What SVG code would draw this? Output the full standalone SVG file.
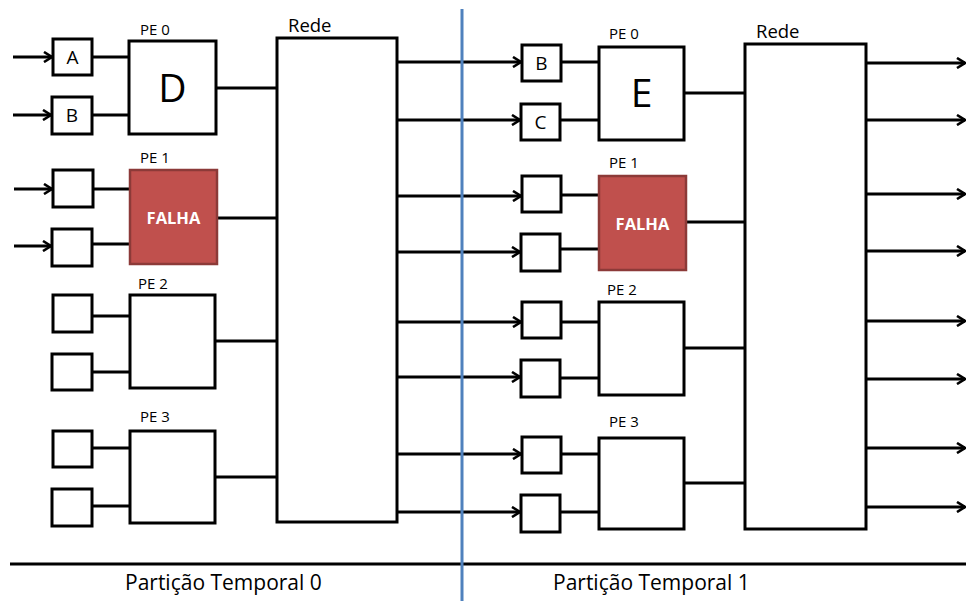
<svg xmlns="http://www.w3.org/2000/svg" width="966" height="601" viewBox="0 0 966 601">
<defs>
<style>
.box{fill:#fff;stroke:#000;stroke-width:3}
.fail{fill:#C0504D;stroke:#8C3A38;stroke-width:2.5}
.ln{stroke:#000;stroke-width:3;fill:none}
.arr{stroke:#000;stroke-width:3;fill:none;marker-end:url(#ah)}
.t{font-family:"Open Sans","Liberation Sans",sans-serif;fill:#000}
.pe{font-size:15px}
.io{font-size:19px}
.big{font-size:39px}
.rede{font-size:18.5px}
.fl{font-family:"Open Sans","Liberation Sans",sans-serif;font-weight:bold;font-size:16.5px;fill:#fff}
.part{font-size:21px}
</style>
<marker id="ah" markerWidth="12" markerHeight="12" viewBox="0 0 12 12" refX="10" refY="6" orient="auto" markerUnits="userSpaceOnUse">
<path d="M2,1 L10,6 L2,11" fill="none" stroke="#000" stroke-width="2.6"/>
</marker>
</defs>
<rect width="966" height="601" fill="#fff"/>

<g id="connectors">
<line class="arr" x1="13" y1="57" x2="52" y2="57"/>
<line class="arr" x1="13" y1="115" x2="51" y2="115"/>
<line class="arr" x1="14" y1="189" x2="52" y2="189"/>
<line class="arr" x1="14" y1="246" x2="51" y2="246"/>
<line class="ln" x1="92" y1="57" x2="129" y2="57"/>
<line class="ln" x1="92" y1="115" x2="129" y2="115"/>
<line class="ln" x1="93" y1="189" x2="130" y2="189"/>
<line class="ln" x1="92" y1="244" x2="130" y2="244"/>
<line class="ln" x1="92" y1="316" x2="130" y2="316"/>
<line class="ln" x1="92" y1="372" x2="130" y2="372"/>
<line class="ln" x1="92" y1="448" x2="130" y2="448"/>
<line class="ln" x1="92" y1="506" x2="130" y2="506"/>
<line class="ln" x1="216" y1="88" x2="277" y2="88"/>
<line class="ln" x1="217" y1="218" x2="277" y2="218"/>
<line class="ln" x1="215" y1="341" x2="277" y2="341"/>
<line class="ln" x1="215" y1="477" x2="277" y2="477"/>
<line class="arr" x1="397" y1="62" x2="521" y2="62"/>
<line class="arr" x1="397" y1="120" x2="520" y2="120"/>
<line class="arr" x1="397" y1="196" x2="521" y2="196"/>
<line class="arr" x1="397" y1="252" x2="520" y2="252"/>
<line class="arr" x1="397" y1="322" x2="521" y2="322"/>
<line class="arr" x1="397" y1="377" x2="520" y2="377"/>
<line class="arr" x1="397" y1="454" x2="521" y2="454"/>
<line class="arr" x1="397" y1="512" x2="520" y2="512"/>
<line class="ln" x1="561" y1="62" x2="599" y2="62"/>
<line class="ln" x1="560" y1="120" x2="599" y2="120"/>
<line class="ln" x1="561" y1="195" x2="599" y2="195"/>
<line class="ln" x1="560" y1="249" x2="599" y2="249"/>
<line class="ln" x1="561" y1="322" x2="599" y2="322"/>
<line class="ln" x1="560" y1="378" x2="599" y2="378"/>
<line class="ln" x1="561" y1="454" x2="599" y2="454"/>
<line class="ln" x1="560" y1="512" x2="599" y2="512"/>
<line class="ln" x1="684" y1="93" x2="745" y2="93"/>
<line class="ln" x1="686" y1="222" x2="745" y2="222"/>
<line class="ln" x1="684" y1="348" x2="745" y2="348"/>
<line class="ln" x1="684" y1="483" x2="745" y2="483"/>
<line class="arr" x1="866" y1="63" x2="965" y2="63"/>
<line class="arr" x1="866" y1="120" x2="965" y2="120"/>
<line class="arr" x1="866" y1="194" x2="965" y2="194"/>
<line class="arr" x1="866" y1="251" x2="965" y2="251"/>
<line class="arr" x1="866" y1="321" x2="965" y2="321"/>
<line class="arr" x1="866" y1="379" x2="965" y2="379"/>
<line class="arr" x1="866" y1="448" x2="965" y2="448"/>
<line class="arr" x1="866" y1="507" x2="965" y2="507"/>
</g>

<g id="in0A"><rect class="box" x="53" y="39" width="39" height="36"/><text class="t io" x="72.5" y="64" text-anchor="middle">A</text></g>
<g id="in0B"><rect class="box" x="52" y="97" width="40" height="37"/><text class="t io" x="72" y="122" text-anchor="middle">B</text></g>
<g id="in0c"><rect class="box" x="53" y="170" width="40" height="37"/></g>
<g id="in0d"><rect class="box" x="52" y="229" width="40" height="37"/></g>
<g id="in0e"><rect class="box" x="53" y="295" width="39" height="37"/></g>
<g id="in0f"><rect class="box" x="52" y="354" width="40" height="36"/></g>
<g id="in0g"><rect class="box" x="53" y="431" width="39" height="36"/></g>
<g id="in0h"><rect class="box" x="52" y="489" width="40" height="37"/></g>

<g id="pe0_0"><text class="t pe" x="140" y="35">PE 0</text><rect class="box" x="129" y="41" width="87" height="93"/><text class="t big" x="172.5" y="102" text-anchor="middle">D</text></g>
<g id="pe1_0"><text class="t pe" x="140" y="163">PE 1</text><rect class="fail" x="130" y="170" width="87" height="94"/><text class="fl" x="173.5" y="224" text-anchor="middle">FALHA</text></g>
<g id="pe2_0"><text class="t pe" x="138" y="289">PE 2</text><rect class="box" x="130" y="295" width="85" height="93"/></g>
<g id="pe3_0"><text class="t pe" x="140" y="422">PE 3</text><rect class="box" x="130" y="431" width="85" height="92"/></g>

<g id="rede0"><text class="t rede" x="288" y="32">Rede</text><rect class="box" x="277" y="38" width="120" height="484"/></g>

<g id="in1B"><rect class="box" x="522" y="45" width="39" height="36"/><text class="t io" x="541.5" y="70" text-anchor="middle">B</text></g>
<g id="in1C"><rect class="box" x="521" y="104" width="39" height="36"/><text class="t io" x="540.5" y="129" text-anchor="middle">C</text></g>
<g id="in1c"><rect class="box" x="522" y="176" width="39" height="36"/></g>
<g id="in1d"><rect class="box" x="521" y="234" width="39" height="37"/></g>
<g id="in1e"><rect class="box" x="522" y="302" width="39" height="36"/></g>
<g id="in1f"><rect class="box" x="521" y="360" width="39" height="37"/></g>
<g id="in1g"><rect class="box" x="522" y="437" width="39" height="36"/></g>
<g id="in1h"><rect class="box" x="521" y="495" width="39" height="37"/></g>

<g id="pe0_1"><text class="t pe" x="609" y="39">PE 0</text><rect class="box" x="599" y="47" width="85" height="93"/><text class="t big" x="641.5" y="107" text-anchor="middle">E</text></g>
<g id="pe1_1"><text class="t pe" x="609" y="168">PE 1</text><rect class="fail" x="599" y="176" width="87" height="94"/><text class="fl" x="642.5" y="230" text-anchor="middle">FALHA</text></g>
<g id="pe2_1"><text class="t pe" x="607" y="295">PE 2</text><rect class="box" x="599" y="302" width="85" height="93"/></g>
<g id="pe3_1"><text class="t pe" x="609" y="427">PE 3</text><rect class="box" x="599" y="438" width="85" height="91"/></g>

<g id="rede1"><text class="t rede" x="756" y="38">Rede</text><rect class="box" x="745" y="44" width="121" height="485"/></g>

<line x1="10" y1="564" x2="966" y2="564" stroke="#000" stroke-width="3"/>
<line x1="462" y1="9" x2="462" y2="601" stroke="#4F81BD" stroke-width="3"/>
<text class="t part" x="125" y="590">Partição Temporal 0</text>
<text class="t part" x="553" y="590">Partição Temporal 1</text>
</svg>
